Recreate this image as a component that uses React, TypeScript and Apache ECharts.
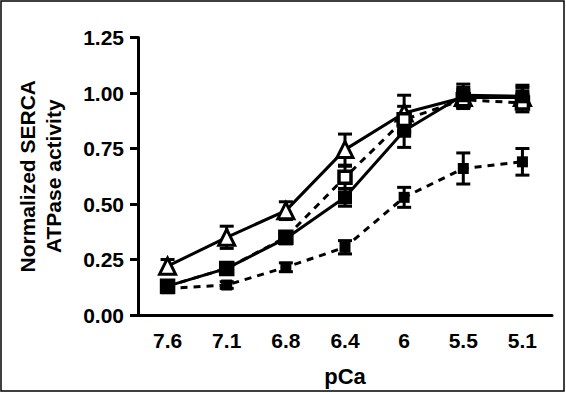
import React, { useEffect, useRef } from "react";
import * as echarts from "echarts";

const categories = ["7.6", "7.1", "6.8", "6.4", "6", "5.5", "5.1"];
const yTicks = [0, 0.25, 0.5, 0.75, 1.0, 1.25];

// solid line, open triangles
const seriesA = [0.22, 0.35, 0.47, 0.745, 0.91, 0.98, 0.98];
const errA = [0.03, 0.05, 0.04, 0.07, 0.08, 0.045, 0.045];
// solid line, filled squares
const seriesB = [0.13, 0.21, 0.345, 0.53, 0.83, 0.99, 0.985];
const errB = [0.02, 0.02, 0.02, 0.04, 0.075, 0.05, 0.05];
// dashed line, open squares
const seriesC = [0.13, 0.21, 0.35, 0.62, 0.88, 0.97, 0.955];
const errC = [0.02, 0.02, 0.02, 0.05, 0.06, 0.04, 0.04];
// dashed line, small filled squares
const seriesD = [0.12, 0.135, 0.215, 0.305, 0.53, 0.66, 0.69];
const errD = [0.02, 0.015, 0.02, 0.03, 0.045, 0.07, 0.06];

const FONT = "'Liberation Sans', Arial, sans-serif";

function errData(vals: number[], errs: number[]) {
  return vals.map((v, i) => [i, v - errs[i], v + errs[i]]);
}

function errSeries(vals: number[], errs: number[], z: number) {
  return {
    type: "custom",
    z,
    silent: true,
    data: errData(vals, errs),
    renderItem: (params: any, api: any) => {
      const x = api.value(0);
      const lo = api.coord([x, api.value(1)]);
      const hi = api.coord([x, api.value(2)]);
      const hw = 7;
      const style = { stroke: "#000", lineWidth: 3 };
      return {
        type: "group",
        children: [
          { type: "line", shape: { x1: lo[0], y1: lo[1], x2: hi[0], y2: hi[1] }, style },
          { type: "line", shape: { x1: hi[0] - hw, y1: hi[1], x2: hi[0] + hw, y2: hi[1] }, style },
          { type: "line", shape: { x1: lo[0] - hw, y1: lo[1], x2: lo[0] + hw, y2: lo[1] }, style },
        ],
      };
    },
  };
}

export default function App() {
  const ref = useRef<HTMLDivElement>(null);
  useEffect(() => {
    if (!ref.current) return;
    const chart = echarts.init(ref.current, null, { renderer: "svg" });
    chart.setOption({
      animation: false,
      backgroundColor: "#fff",
      graphic: [
        {
          type: "rect",
          shape: { x: 1, y: 1, width: 563, height: 390 },
          style: { fill: "none", stroke: "#000", lineWidth: 1.5 },
          silent: true,
        },
      ],
      grid: { left: 138, right: 14, top: 37.5, bottom: 78, containLabel: false },
      xAxis: {
        type: "category",
        data: categories,
        boundaryGap: true,
        name: "pCa",
        nameLocation: "middle",
        nameGap: 50,
        nameTextStyle: { fontFamily: FONT, fontWeight: "bold", fontSize: 22, color: "#000" },
        axisLine: { lineStyle: { color: "#000", width: 3 } },
        axisTick: { alignWithLabel: true, length: 5, lineStyle: { color: "#000", width: 3 } },
        axisLabel: { fontFamily: FONT, fontWeight: "bold", fontSize: 21, color: "#000", margin: 15 },
        splitLine: { show: false },
      },
      yAxis: {
        type: "value",
        min: yTicks[0],
        max: yTicks[yTicks.length - 1],
        interval: 0.25,
        name: "Normalized SERCA\nATPase activity",
        nameLocation: "middle",
        nameRotate: 90,
        nameGap: 72,
        nameTextStyle: { fontFamily: FONT, fontWeight: "bold", fontSize: 21, color: "#000", lineHeight: 26 },
        axisLine: { show: true, lineStyle: { color: "#000", width: 3 } },
        axisTick: { show: true, length: 8, lineStyle: { color: "#000", width: 3 } },
        axisLabel: {
          fontFamily: FONT,
          fontWeight: "bold",
          fontSize: 21,
          color: "#000",
          margin: 14,
          formatter: (v: number) => v.toFixed(2),
        },
        splitLine: { show: false },
      },
      series: [
        errSeries(seriesA, errA, 2),
        errSeries(seriesC, errC, 3),
        errSeries(seriesD, errD, 3),
        errSeries(seriesB, errB, 4),
        {
          type: "line",
          name: "A",
          data: seriesA,
          z: 3,
          symbol: "triangle",
          symbolSize: 16,
          itemStyle: { color: "#fff", borderColor: "#000", borderWidth: 3 },
          lineStyle: { color: "#000", width: 3 },
        },
        {
          type: "line",
          name: "C",
          data: seriesC,
          z: 4,
          symbol: "rect",
          symbolSize: 12,
          itemStyle: { color: "#fff", borderColor: "#000", borderWidth: 3.5 },
          lineStyle: { color: "#000", width: 3, type: [7, 6] },
        },
        {
          type: "line",
          name: "D",
          data: seriesD,
          z: 5,
          symbol: "rect",
          symbolSize: 11,
          itemStyle: { color: "#000" },
          lineStyle: { color: "#000", width: 3, type: [7, 6] },
        },
        {
          type: "line",
          name: "B",
          data: seriesB,
          z: 6,
          symbol: "rect",
          symbolSize: 14,
          itemStyle: { color: "#000" },
          lineStyle: { color: "#000", width: 3 },
        },
      ],
    });
    return () => chart.dispose();
  }, []);
  return (
    <div
      ref={ref}
      style={{ position: "absolute", left: 0, top: 0, width: 566, height: 393 }}
    />
  );
}
